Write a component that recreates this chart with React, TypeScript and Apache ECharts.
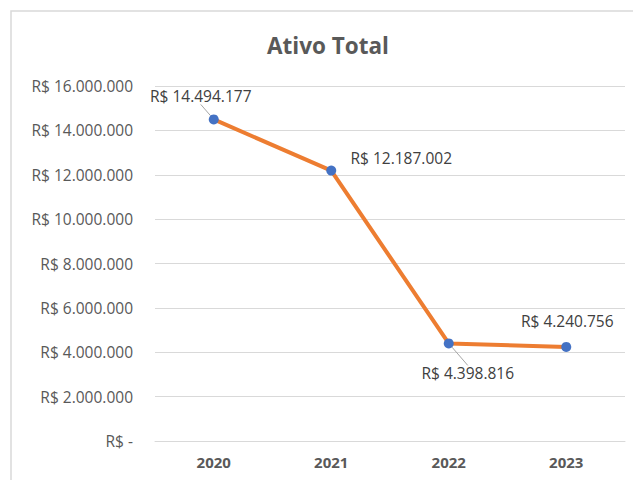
import React, { useEffect, useRef } from "react";
import * as echarts from "echarts";

const categories = ["2020", "2021", "2022", "2023"];
const values = [14494177, 12187002, 4398816, 4240756];
const yTicks = [0, 2000000, 4000000, 6000000, 8000000, 10000000, 12000000, 14000000, 16000000];
const title = "Ativo Total";

const fmt = (v: number) => {
  if (v === 0) return "R$ -";
  const s = Math.round(v).toString().replace(/\B(?=(\d{3})+(?!\d))/g, ".");
  return "R$ " + s;
};

// label offsets (center relative to point) and leader visibility
const labelShift = [
  { dx: -13, dy: -23, line: true },
  { dx: 70, dy: -13, line: false },
  { dx: 19, dy: 30, line: true },
  { dx: 1, dy: -26, line: false },
];

export default function App() {
  const ref = useRef<HTMLDivElement>(null);
  useEffect(() => {
    if (!ref.current) return;
    const chart = echarts.init(ref.current, undefined, { renderer: "svg" });
    const font = "'Open Sans', 'Noto Sans', sans-serif";
    chart.setOption({
      animation: false,
      backgroundColor: "#ffffff",
      graphic: [
        {
          type: "rect",
          shape: { x: 11, y: 11, width: 700, height: 600 },
          style: { fill: "none", stroke: "#d9d9d9", lineWidth: 1.5 },
          silent: true,
        },
        {
          type: "text",
          x: 328,
          y: 45,
          style: {
            text: title,
            align: "center",
            verticalAlign: "middle",
            fill: "#595959",
            font: "bold 22.5px 'Open Sans', 'Noto Sans', sans-serif",
          },
        },
      ],
      grid: { left: 155, right: 8, top: 86, bottom: 39 },
      xAxis: {
        type: "category",
        data: categories,
        boundaryGap: true,
        axisLine: { show: true, lineStyle: { color: "#d9d9d9", width: 1 } },
        axisTick: { show: false },
        axisLabel: {
          color: "#595959",
          fontWeight: "bold",
          fontSize: 15,
          fontFamily: font,
          margin: 13,
        },
      },
      yAxis: {
        type: "value",
        min: yTicks[0],
        max: yTicks[yTicks.length - 1],
        interval: yTicks[1] - yTicks[0],
        axisLine: { show: false },
        axisTick: { show: false },
        splitLine: { lineStyle: { color: "#d9d9d9", width: 1 } },
        axisLabel: {
          color: "#595959",
          fontSize: 15.5,
          fontFamily: font,
          margin: 22,
          formatter: (v: number) => fmt(v),
        },
      },
      series: [
        {
          type: "line",
          data: values.map((v, i) => ({
            value: v,
            labelLine: {
              show: labelShift[i].line,
              lineStyle: { color: "#a6a6a6", width: 1 },
            },
          })),
          symbol: "circle",
          symbolSize: 10,
          lineStyle: { color: "#ED7D31", width: 4 },
          itemStyle: { color: "#4472C4" },
          label: {
            show: true,
            position: "inside",
            color: "#404040",
            fontSize: 15.5,
            fontFamily: font,
            formatter: (p: any) => fmt(p.value),
          },
          labelLine: { show: true, lineStyle: { color: "#a6a6a6", width: 1 } },
          labelLayout: (p: any) => ({
            dx: labelShift[p.dataIndex].dx,
            dy: labelShift[p.dataIndex].dy,
          }),
          z: 3,
        },
      ],
    });
    return () => chart.dispose();
  }, []);
  return (
    <div
      ref={ref}
      style={{ position: "fixed", left: 0, top: 0, width: 633, height: 480 }}
    />
  );
}
